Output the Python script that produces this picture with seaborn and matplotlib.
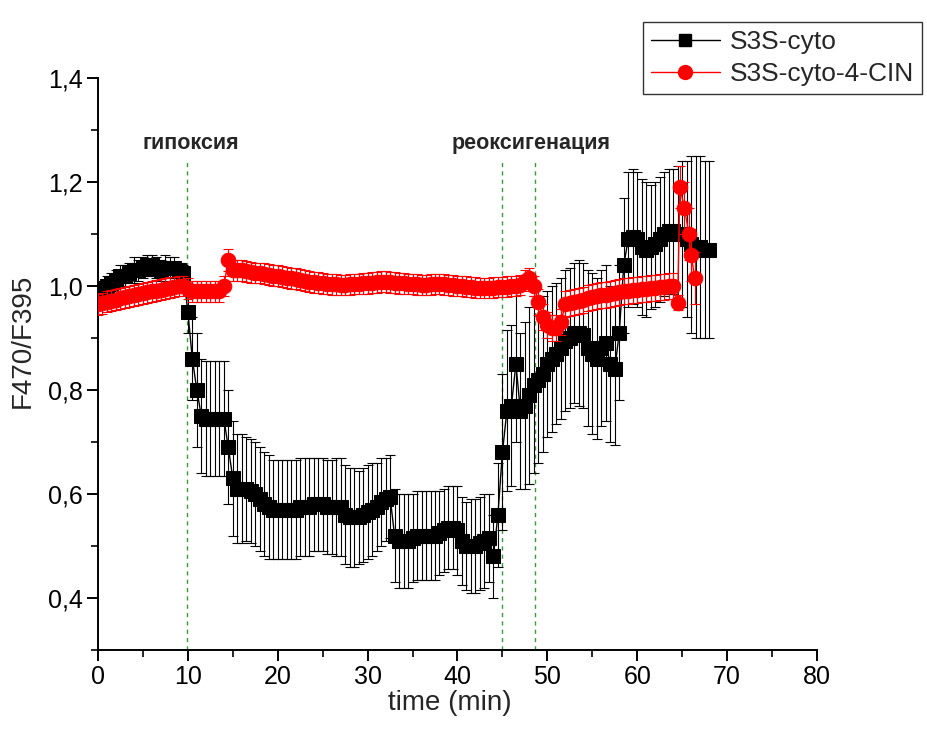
import numpy as np
import matplotlib
matplotlib.use('Agg')
import matplotlib.pyplot as plt
from matplotlib.lines import Line2D
import seaborn as sns

######################################## data ########################################
# S3S-cyto (black squares), sampled every 0.5 min
t_cyto = np.arange(0, 68.01, 0.5)
cyto = [0.99, 0.995, 1.00, 1.005, 1.01, 1.02, 1.02, 1.025, 1.03, 1.03,
        1.035, 1.04, 1.04, 1.035, 1.03, 1.035, 1.035, 1.035, 1.03, 1.025,
        0.95, 0.86, 0.80, 0.75, 0.745, 0.745, 0.745, 0.745, 0.745, 0.69,
        0.63, 0.61, 0.61, 0.61, 0.605, 0.60, 0.59, 0.58, 0.575, 0.57,
        0.57, 0.57, 0.57, 0.57, 0.57, 0.575, 0.575, 0.575, 0.58, 0.58,
        0.58, 0.575, 0.575, 0.575, 0.575, 0.56, 0.555, 0.555, 0.555, 0.56,
        0.565, 0.57, 0.575, 0.585, 0.59, 0.595, 0.52, 0.51, 0.51, 0.51,
        0.515, 0.52, 0.52, 0.52, 0.52, 0.52, 0.525, 0.53, 0.535, 0.535,
        0.53, 0.51, 0.50, 0.50, 0.50, 0.505, 0.51, 0.515, 0.48, 0.56,
        0.68, 0.76, 0.77, 0.85, 0.76, 0.77, 0.79, 0.81, 0.82, 0.83,
        0.85, 0.86, 0.87, 0.88, 0.895, 0.90, 0.91, 0.91, 0.905, 0.88,
        0.87, 0.86, 0.88, 0.89, 0.85, 0.84, 0.91, 1.04, 1.09, 1.095,
        1.09, 1.075, 1.07, 1.075, 1.08, 1.09, 1.10, 1.105, 1.105, 1.10,
        1.10, 1.09, 1.08, 1.075, 1.075, 1.07, 1.07]
cyto_err = [0.015, 0.015, 0.02, 0.02, 0.02, 0.02, 0.02, 0.02, 0.025, 0.02,
            0.02, 0.02, 0.02, 0.02, 0.02, 0.025, 0.02, 0.02, 0.015, 0.015,
            0.04, 0.08, 0.11, 0.11, 0.11, 0.11, 0.11, 0.11, 0.11, 0.11,
            0.11, 0.105, 0.105, 0.10, 0.10, 0.10, 0.10, 0.10, 0.10, 0.095,
            0.095, 0.095, 0.095, 0.095, 0.095, 0.095, 0.095, 0.095, 0.09, 0.09,
            0.09, 0.09, 0.09, 0.095, 0.095, 0.095, 0.095, 0.095, 0.09, 0.09,
            0.09, 0.09, 0.085, 0.085, 0.08, 0.08, 0.09, 0.09, 0.09, 0.09,
            0.085, 0.085, 0.085, 0.085, 0.085, 0.085, 0.08, 0.08, 0.08, 0.08,
            0.085, 0.085, 0.085, 0.09, 0.09, 0.09, 0.09, 0.085, 0.08, 0.1,
            0.15, 0.155, 0.155, 0.15, 0.15, 0.16, 0.17, 0.17, 0.16, 0.15,
            0.14, 0.14, 0.135, 0.135, 0.135, 0.135, 0.135, 0.14, 0.14, 0.15,
            0.155, 0.155, 0.15, 0.15, 0.15, 0.145, 0.13, 0.13, 0.13, 0.13,
            0.13, 0.13, 0.13, 0.12, 0.12, 0.12, 0.12, 0.12, 0.12, 0.13,
            0.14, 0.15, 0.17, 0.175, 0.175, 0.17, 0.17]

# S3S-cyto-4-CIN (red circles)
t_cin = list(np.arange(0, 64.01, 0.5)) + [64.5, 64.75, 65.25, 65.75, 66.0, 66.4]
cin = [0.965, 0.967, 0.97, 0.972, 0.974, 0.976, 0.978, 0.98, 0.982, 0.984,
       0.986, 0.988, 0.99, 0.991, 0.993, 0.995, 0.997, 0.998, 1.0, 1.0,
       0.995, 0.99, 0.99, 0.99, 0.99, 0.99, 0.99, 0.99, 1.0, 1.05,
       1.03, 1.03, 1.03, 1.028, 1.026, 1.025, 1.025, 1.024, 1.022, 1.02,
       1.02, 1.018, 1.016, 1.015, 1.014, 1.012, 1.01, 1.008, 1.007, 1.006,
       1.005, 1.004, 1.003, 1.003, 1.002, 1.002, 1.003, 1.004, 1.004, 1.005,
       1.005, 1.006, 1.007, 1.008, 1.008, 1.007, 1.006, 1.005, 1.005, 1.004,
       1.004, 1.003, 1.002, 1.002, 1.003, 1.004, 1.004, 1.003, 1.002, 1.001,
       1.0, 1.0, 0.999, 0.998, 0.997, 0.996, 0.996, 0.996, 0.997, 0.998,
       0.998, 0.999, 1.0, 1.0, 1.002, 1.01, 1.015, 1.0, 0.97, 0.94,
       0.925, 0.92, 0.92, 0.93, 0.965, 0.968, 0.97, 0.972, 0.974, 0.976,
       0.978, 0.98, 0.982, 0.983, 0.985, 0.986, 0.988, 0.99, 0.991, 0.992,
       0.993, 0.994, 0.995, 0.996, 0.997, 0.998, 0.999, 1.0, 1.0,
       0.968, 1.19, 1.15, 1.10, 1.06, 1.015]
cin_err = [0.02] * 29 + [0.022] + [0.02] * 68 + [0.025] * 31 + [0.015, 0.04, 0.05, 0.05, 0.05, 0.05]

# event markers
event_times = [9.85, 44.9, 48.6]
event_labels = ['гипоксия', 'реоксигенация']
event_label_x = [10.3, 48.2]

######################################## plot ########################################
sns.set_style('ticks')
plt.rcParams['font.family'] = ['Liberation Sans', 'DejaVu Sans']

fig = plt.figure(figsize=(9.27, 7.38), dpi=100)
ax = fig.add_axes([0.1057, 0.1192, 0.7756, 0.7751])

ax.errorbar(t_cyto, cyto, yerr=cyto_err, fmt='none', ecolor='black',
            elinewidth=0.8, capsize=3.5, capthick=0.8, zorder=2)
sns.lineplot(x=t_cyto, y=cyto, ax=ax, color='black', linewidth=1, marker='s',
             markersize=9.5, markeredgecolor='black', sort=False, zorder=3)

ax.errorbar(t_cin, cin, yerr=cin_err, fmt='none', ecolor='red',
            elinewidth=0.8, capsize=3.5, capthick=0.8, zorder=4)
sns.lineplot(x=t_cin, y=cin, ax=ax, color='red', linewidth=1, marker='o',
             markersize=10.5, markeredgecolor='red', sort=False, zorder=5)

for xv in event_times:
    ax.vlines(xv, 0.3, 1.245, colors='#3a9a3a', linestyles=(0, (3, 3)), linewidth=1, zorder=1)
for lbl, xv in zip(event_labels, event_label_x):
    ax.text(xv, 1.275, lbl, ha='center', va='center', fontsize=15.5, fontweight='bold')

ax.set_xlim(0, 80)
ax.set_ylim(0.3, 1.4)
ax.set_xticks(np.arange(0, 81, 10))
ax.set_xticks(np.arange(5, 80, 10), minor=True)
ax.set_yticks([0.4, 0.6, 0.8, 1.0, 1.2, 1.4])
ax.set_yticks([0.3, 0.5, 0.7, 0.9, 1.1, 1.3], minor=True)
ax.set_yticklabels(['0,4', '0,6', '0,8', '1,0', '1,2', '1,4'])
ax.tick_params(axis='both', which='major', direction='out', length=8, width=1.4,
               labelsize=18, colors='black', pad=3)
ax.tick_params(axis='both', which='minor', direction='out', length=5, width=1.4)
ax.set_xlabel('time (min)', fontsize=20, va='center')
ax.set_ylabel('F470/F395', fontsize=20, va='center')
ax.xaxis.set_label_coords(0.49, -0.093)
ax.yaxis.set_label_coords(-0.104, 0.54)
sns.despine(ax=ax)
for s in ['left', 'bottom']:
    ax.spines[s].set_linewidth(1.4)
    ax.spines[s].set_color('black')

handles = [Line2D([], [], color='black', marker='s', markersize=9, linewidth=1),
           Line2D([], [], color='red', marker='o', markersize=10, linewidth=1)]
leg = fig.legend(handles, ['S3S-cyto', 'S3S-cyto-4-CIN'], loc='upper left',
                 bbox_to_anchor=(643 / 927, 1 - 22 / 738), bbox_transform=fig.transFigure,
                 fontsize=19, frameon=True, fancybox=False, edgecolor='black',
                 handlelength=2.6, handletextpad=0.4, borderpad=0.3,
                 labelspacing=0.3, borderaxespad=0)
leg.get_frame().set_linewidth(1)

fig.savefig('out.png', dpi=100)
